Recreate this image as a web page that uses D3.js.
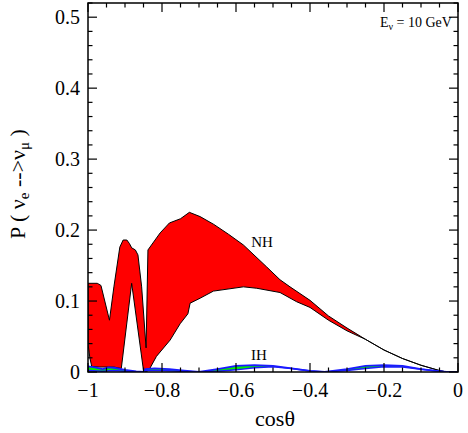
<!DOCTYPE html>
<html><head><meta charset="utf-8">
<script src="https://cdn.jsdelivr.net/npm/d3@7"></script>
<style>body{margin:0;background:#fff}svg{display:block}</style>
</head><body>
<svg id="c" width="468" height="433"></svg>
<script>
// NH band (red): upper and lower boundaries [cosθ, P]
const nhUpper = [[-1,0.125],[-0.975,0.125],[-0.965,0.122],[-0.942,0.073],[-0.93,0.12],[-0.914,0.176],[-0.905,0.186],[-0.895,0.186],[-0.888,0.181],[-0.882,0.175],[-0.872,0.172],[-0.865,0.165],[-0.855,0.12],[-0.843,0.034],[-0.838,0.172],[-0.805,0.196],[-0.78,0.21],[-0.75,0.216],[-0.726,0.225],[-0.697,0.219],[-0.66,0.208],[-0.62,0.194],[-0.58,0.179],[-0.517,0.148],[-0.481,0.13],[-0.454,0.12],[-0.4,0.101],[-0.35,0.079],[-0.3,0.062],[-0.25,0.046],[-0.2,0.031],[-0.15,0.019],[-0.1,0.0095],[-0.07,0.005],[-0.05,0.002],[-0.03,0],[0,0]];
const nhLower = [[-1,0.04],[-0.995,0.02],[-0.99,0.008],[-0.97,0.007],[-0.93,0.007],[-0.91,0.005],[-0.882,0.125],[-0.85,0.002],[-0.843,0.0],[-0.835,0.003],[-0.815,0.022],[-0.778,0.045],[-0.751,0.068],[-0.73,0.082],[-0.724,0.097],[-0.697,0.104],[-0.661,0.114],[-0.58,0.12],[-0.544,0.118],[-0.481,0.112],[-0.436,0.099],[-0.4,0.091],[-0.35,0.073],[-0.3,0.058],[-0.25,0.046],[-0.2,0.031],[-0.15,0.019],[-0.1,0.0095],[-0.07,0.005],[-0.05,0.002],[-0.03,0],[0,0]];
// IH band (green with blue edges)
const ihUpper = [[-1,0.008],[-0.985,0.007],[-0.96,0.004],[-0.945,0.0065],[-0.93,0.006],[-0.9,0.003],[-0.87,0.001],[-0.85,0],[-0.845,0.004],[-0.82,0.005],[-0.78,0.004],[-0.74,0.002],[-0.7,0],[-0.65,0.004],[-0.6,0.0085],[-0.55,0.0098],[-0.5,0.0085],[-0.45,0.005],[-0.4,0.0015],[-0.36,0],[-0.3,0.004],[-0.25,0.0085],[-0.2,0.0098],[-0.15,0.0085],[-0.1,0.004],[-0.05,0.001],[-0.03,0],[0,0]];
const ihLower = [[-1,0.002],[-0.96,0.001],[-0.93,0.002],[-0.9,0.001],[-0.85,0],[-0.845,0.002],[-0.8,0.002],[-0.75,0.001],[-0.7,0],[-0.65,0.001],[-0.6,0.003],[-0.55,0.006],[-0.5,0.0075],[-0.45,0.005],[-0.4,0.0015],[-0.36,0],[-0.3,0.002],[-0.25,0.005],[-0.2,0.0075],[-0.15,0.007],[-0.1,0.004],[-0.05,0.001],[-0.03,0],[0,0]];
const xMajor = [-1,-0.8,-0.6,-0.4,-0.2,0];
const xLabels = ["\u22121","\u22120.8","\u22120.6","\u22120.4","\u22120.2","0"];
const yMajor = [0,0.1,0.2,0.3,0.4,0.5];
const yLabels = ["0","0.1","0.2","0.3","0.4","0.5"];

const L=88,R=458,T=3,B=372;
const x=d3.scaleLinear().domain([-1,0]).range([L,R]);
const y=d3.scaleLinear().domain([0,0.52]).range([B,T]);
const svg=d3.select("#c");
const font="Liberation Serif, Times New Roman, serif";
svg.append("clipPath").attr("id","cl").append("rect").attr("x",L).attr("y",T).attr("width",R-L).attr("height",B-T);
const pg=svg.append("g").attr("clip-path","url(#cl)");
const line=d3.line().x(d=>x(d[0])).y(d=>y(d[1]));
pg.append("path").attr("d",line(nhUpper.concat(nhLower.slice().reverse()))+"Z")
  .attr("fill","#ff0000").attr("stroke","#000").attr("stroke-width",1).attr("stroke-linejoin","round");
pg.append("path").attr("d",line(ihUpper.concat(ihLower.slice().reverse()))+"Z")
  .attr("fill","#00ee00").attr("stroke","none");
pg.append("path").attr("d",line(ihUpper)).attr("fill","none").attr("stroke","#1a1aff").attr("stroke-width",1.8);
pg.append("path").attr("d",line(ihLower)).attr("fill","none").attr("stroke","#1a1aff").attr("stroke-width",1.5);

// axes
const ax=svg.append("g").attr("stroke","#000");
const xMinor=d3.range(-1,0.0001,0.05);
const yMinor=d3.range(0,0.5201,0.02);
xMinor.forEach(v=>{const px=x(v);const isMaj=xMajor.some(m=>Math.abs(m-v)<1e-6);const len=isMaj?9:4.5;
  ax.append("line").attr("x1",px).attr("x2",px).attr("y1",B).attr("y2",B-len).attr("stroke-width",1.2);
  ax.append("line").attr("x1",px).attr("x2",px).attr("y1",T).attr("y2",T+len).attr("stroke-width",1.2);});
yMinor.forEach(v=>{const py=y(v);const isMaj=yMajor.some(m=>Math.abs(m-v)<1e-6);const len=isMaj?9:4.5;
  ax.append("line").attr("x1",L).attr("x2",L+len).attr("y1",py).attr("y2",py).attr("stroke-width",1.2);
  ax.append("line").attr("x1",R).attr("x2",R-len).attr("y1",py).attr("y2",py).attr("stroke-width",1.2);});
svg.append("rect").attr("x",L).attr("y",T).attr("width",R-L).attr("height",B-T).attr("fill","none").attr("stroke","#000").attr("stroke-width",1.5);

const tl=svg.append("g").attr("font-family",font).attr("font-size",20).attr("fill","#000");
xMajor.forEach((v,i)=>tl.append("text").attr("x",x(v)).attr("y",397).attr("text-anchor","middle").text(xLabels[i]));
yMajor.forEach((v,i)=>tl.append("text").attr("x",80).attr("y",y(v)+7).attr("text-anchor","end").text(yLabels[i]));

svg.append("text").attr("x",275).attr("y",426).attr("text-anchor","middle").attr("font-family",font).attr("font-size",22).text("cosθ");
const yl=svg.append("text").attr("transform","translate(25,184) rotate(-90)").attr("text-anchor","middle").attr("font-family",font).attr("font-size",22);
yl.append("tspan").text("P ( ν");
yl.append("tspan").attr("font-size",15).attr("dy",4).text("e");
yl.append("tspan").attr("dy",-4).text(" -->ν");
yl.append("tspan").attr("font-size",15).attr("dy",4).text("μ");
yl.append("tspan").attr("dy",-4).text(" )");

const el=svg.append("text").attr("x",380).attr("y",27).attr("font-family",font).attr("font-size",14);
el.append("tspan").text("E");
el.append("tspan").attr("font-size",10).attr("dy",3).text("ν");
el.append("tspan").attr("dy",-3).text(" = 10 GeV");

svg.append("text").attr("x",262).attr("y",247).attr("text-anchor","middle").attr("font-family",font).attr("font-size",15).text("NH");
svg.append("text").attr("x",259).attr("y",360).attr("text-anchor","middle").attr("font-family",font).attr("font-size",15).text("IH");
</script>
</body></html>
